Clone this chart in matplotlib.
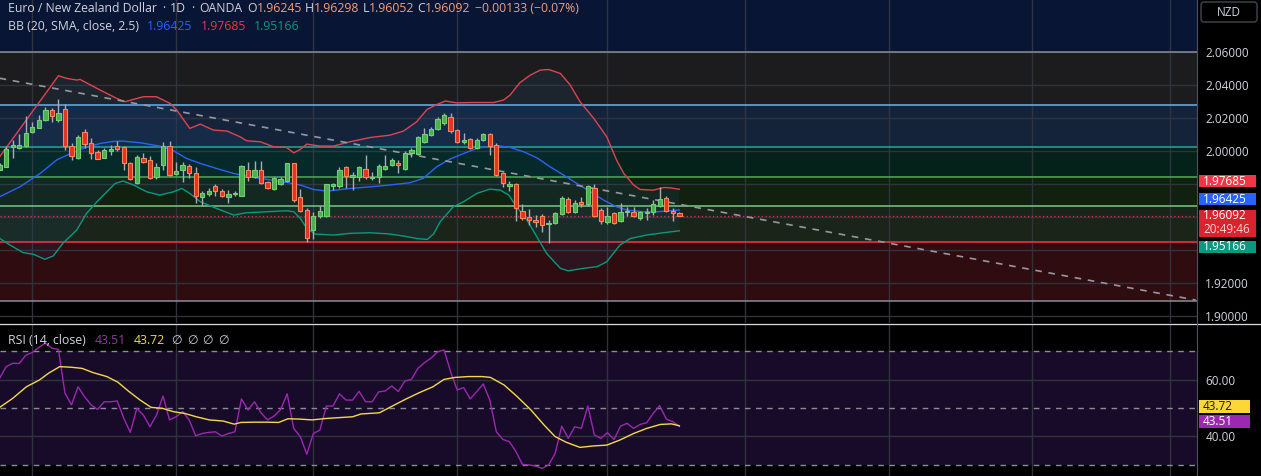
import matplotlib
matplotlib.use('Agg')
import matplotlib.pyplot as plt
from matplotlib.transforms import IdentityTransform
from matplotlib.patches import Rectangle, FancyBboxPatch
from matplotlib.lines import Line2D

plt.rcParams['font.family'] = ['Open Sans', 'DejaVu Sans']

# ---------------- data ----------------
opens = [1.9888, 1.9905, 2.0022, 2.0016, 2.0030, 2.0117, 2.0141, 2.0187, 2.0248, 2.0187,
         2.0252, 2.0032, 1.9959, 2.0117, 2.0050, 1.9995, 1.9959, 1.9999, 2.0032, 2.0026,
         1.9925, 1.9808, 1.9959, 1.9945, 1.9840, 1.9913, 2.0030, 1.9858, 1.9888, 1.9909,
         1.9864, 1.9723, 1.9737, 1.9787, 1.9759, 1.9719, 1.9737, 1.9729, 1.9884, 1.9844,
         1.9884, 1.9810, 1.9769, 1.9800, 1.9820, 1.9925, 1.9719, 1.9642, 1.9521, 1.9606,
         1.9608, 1.9789, 1.9787, 1.9905, 1.9844, 1.9844, 1.9890, 1.9838, 1.9840, 1.9894,
         1.9915, 1.9925, 1.9892, 1.9991, 1.9981, 2.0056, 2.0096, 2.0131, 2.0171, 2.0204,
         2.0127, 2.0052, 2.0070, 2.0016, 2.0066, 2.0103, 2.0036, 1.9864, 1.9787, 1.9800,
         1.9636, 1.9602, 1.9585, 1.9606, 1.9557, 1.9561, 1.9618, 1.9709, 1.9632, 1.9693,
         1.9676, 1.9773, 1.9642, 1.9571, 1.9626, 1.9577, 1.9628, 1.9628, 1.9592, 1.9626,
         1.9628, 1.9666, 1.9717, 1.9636, 1.96245]
highs = [1.9925, 2.0030, 2.0066, 2.0103, 2.0212, 2.0177, 2.0218, 2.0264, 2.0258, 2.0313,
         2.0282, 2.0046, 2.0096, 2.0131, 2.0076, 2.0006, 2.0016, 2.0036, 2.0060, 2.0030,
         1.9935, 1.9975, 1.9989, 1.9969, 1.9929, 2.0056, 2.0062, 1.9935, 1.9935, 1.9921,
         1.9901, 1.9757, 1.9777, 1.9800, 1.9767, 1.9763, 1.9759, 1.9913, 1.9935, 1.9939,
         1.9939, 1.9820, 1.9844, 1.9840, 1.9929, 1.9929, 1.9767, 1.9652, 1.9632, 1.9668,
         1.9800, 1.9808, 1.9901, 1.9909, 1.9874, 1.9909, 1.9975, 1.9874, 1.9921, 1.9975,
         1.9959, 1.9945, 2.0002, 2.0016, 2.0090, 2.0137, 2.0147, 2.0208, 2.0232, 2.0232,
         2.0131, 2.0107, 2.0080, 2.0076, 2.0111, 2.0107, 2.0046, 1.9874, 1.9820, 1.9808,
         1.9682, 1.9646, 1.9612, 1.9618, 1.9585, 1.9632, 1.9727, 1.9719, 1.9703, 1.9723,
         1.9794, 1.9800, 1.9652, 1.9662, 1.9632, 1.9688, 1.9662, 1.9662, 1.9638, 1.9656,
         1.9703, 1.9783, 1.9727, 1.9652, 1.96298]
lows = [1.9884, 1.9901, 1.9959, 2.0012, 2.0026, 2.0111, 2.0137, 2.0183, 2.0177, 2.0177,
        2.0006, 1.9945, 1.9953, 2.0016, 1.9949, 1.9949, 1.9955, 1.9975, 2.0002, 1.9888,
        1.9824, 1.9800, 1.9925, 1.9830, 1.9828, 1.9884, 1.9848, 1.9854, 1.9810, 1.9834,
        1.9688, 1.9668, 1.9727, 1.9727, 1.9719, 1.9686, 1.9727, 1.9727, 1.9820, 1.9834,
        1.9798, 1.9767, 1.9763, 1.9794, 1.9814, 1.9693, 1.9632, 1.9450, 1.9464, 1.9592,
        1.9598, 1.9763, 1.9773, 1.9773, 1.9763, 1.9820, 1.9828, 1.9824, 1.9808, 1.9884,
        1.9909, 1.9868, 1.9888, 1.9961, 1.9975, 2.0046, 2.0090, 2.0127, 2.0157, 2.0111,
        2.0050, 2.0042, 2.0010, 2.0010, 2.0060, 1.9975, 1.9850, 1.9783, 1.9759, 1.9577,
        1.9585, 1.9551, 1.9541, 1.9511, 1.9444, 1.9557, 1.9612, 1.9626, 1.9626, 1.9662,
        1.9668, 1.9602, 1.9557, 1.9555, 1.9557, 1.9571, 1.9606, 1.9602, 1.9585, 1.9581,
        1.9612, 1.9662, 1.9632, 1.9577, 1.96052]
closes = [1.9915, 2.0010, 2.0036, 2.0036, 2.0107, 2.0143, 2.0187, 2.0248, 2.0212, 2.0228,
          2.0032, 1.9969, 2.0086, 2.0040, 1.9991, 1.9953, 2.0006, 2.0010, 2.0010, 1.9925,
          1.9830, 1.9961, 1.9931, 1.9838, 1.9901, 2.0030, 1.9854, 1.9878, 1.9913, 1.9864,
          1.9729, 1.9743, 1.9757, 1.9759, 1.9727, 1.9739, 1.9743, 1.9909, 1.9840, 1.9888,
          1.9804, 1.9773, 1.9838, 1.9830, 1.9925, 1.9703, 1.9638, 1.9476, 1.9606, 1.9636,
          1.9798, 1.9800, 1.9884, 1.9850, 1.9854, 1.9901, 1.9840, 1.9844, 1.9909, 1.9909,
          1.9945, 1.9913, 1.9985, 2.0006, 2.0082, 2.0103, 2.0133, 2.0191, 2.0218, 2.0121,
          2.0056, 2.0066, 2.0016, 2.0066, 2.0103, 2.0030, 1.9854, 1.9804, 1.9798, 1.9652,
          1.9596, 1.9585, 1.9569, 1.9551, 1.9565, 1.9622, 1.9717, 1.9632, 1.9688, 1.9676,
          1.9787, 1.9608, 1.9577, 1.9606, 1.9565, 1.9628, 1.9638, 1.9608, 1.9628, 1.9632,
          1.9676, 1.9707, 1.9638, 1.9622, 1.96092]

bb_upper_x = [0, 9, 10.3, 11.8, 12.3, 15.4, 17.9, 19.2, 20.5, 22.0, 24.0, 26.1, 27.1, 29.1, 30.7,
              32.7, 34.8, 36.8, 37.8, 39.9, 41.9, 43.9, 45.0, 46.0, 47.0, 49.0, 51.1, 53.6, 56.7,
              59.7, 61.8, 63.8, 65.4, 66.9, 68.2, 69.9, 72.5, 75.6, 77.1, 78.1, 79.6, 81.2, 82.7,
              84.0, 85.8, 87.3, 88.8, 90.9, 92.9, 94.4, 95.5, 97.0, 98.0, 100.0, 101.6, 102.6, 104]
bb_upper_y = [1.9965, 2.0456, 2.0440, 2.0430, 2.0434, 2.0369, 2.0319, 2.0299, 2.0313, 2.0329,
              2.0329, 2.0288, 2.0248, 2.0137, 2.0163, 2.0127, 2.0121, 2.0086, 2.0062, 2.0056,
              2.0026, 2.0022, 1.9989, 2.0010, 2.0042, 2.0030, 2.0030, 2.0056, 2.0082, 2.0096,
              2.0121, 2.0177, 2.0252, 2.0282, 2.0303, 2.0292, 2.0294, 2.0294, 2.0309, 2.0339,
              2.0414, 2.0460, 2.0490, 2.0494, 2.0470, 2.0400, 2.0299, 2.0198, 2.0086, 1.9945,
              1.9864, 1.9794, 1.9767, 1.9763, 1.9779, 1.9777, 1.97685]
bb_mid_x = [0, 3.1, 6.2, 8.7, 10.3, 12.8, 15.4, 17.4, 18.9, 21.5, 24.5, 26.6, 28.6, 30.7, 33.2,
            35.8, 38.3, 40.9, 43.4, 46.0, 48.0, 50.1, 53.6, 56.7, 59.7, 62.8, 64.8, 66.9, 68.9,
            71.0, 73.0, 74.5, 76.6, 78.1, 80.2, 82.2, 84.2, 86.3, 88.3, 90.4, 92.4, 94.4, 96.0,
            98.5, 100.6, 104]
bb_mid_y = [1.9723, 1.9783, 1.9864, 1.9945, 1.9975, 2.0016, 2.0046, 2.0058, 2.0060, 2.0050,
            2.0030, 2.0002, 1.9955, 1.9925, 1.9894, 1.9864, 1.9844, 1.9828, 1.9814, 1.9794,
            1.9767, 1.9757, 1.9773, 1.9783, 1.9794, 1.9808, 1.9834, 1.9905, 1.9951, 1.9985,
            2.0016, 2.0026, 2.0030, 2.0022, 1.9995, 1.9959, 1.9905, 1.9854, 1.9804, 1.9753,
            1.9703, 1.9662, 1.9642, 1.9632, 1.9632, 1.96425]
bb_low_x = [0, 1.6, 3.6, 5.2, 6.9, 8.2, 9.75, 11.8, 13.3, 14.9, 17.7, 18.9, 20.5, 22.5, 24.5,
            26.6, 27.9, 29.1, 30.7, 33.2, 35.8, 37.8, 40.9, 43.9, 45.0, 46.0, 47.0, 48.3, 51.1,
            53.6, 56.7, 59.7, 61.8, 63.8, 65.4, 66.4, 67.4, 69.4, 71.0, 73.0, 75.0, 76.6, 77.9,
            79.1, 80.7, 82.2, 83.7, 85.8, 87.0, 89.3, 91.4, 92.9, 94.9, 96.5, 99.0, 101.6, 104]
bb_low_y = [1.9471, 1.9430, 1.9384, 1.9374, 1.9344, 1.9364, 1.9444, 1.9521, 1.9622, 1.9693,
            1.9804, 1.9818, 1.9794, 1.9753, 1.9733, 1.9753, 1.9773, 1.9743, 1.9693, 1.9652,
            1.9612, 1.9626, 1.9632, 1.9638, 1.9632, 1.9592, 1.9531, 1.9497, 1.9491, 1.9501,
            1.9505, 1.9497, 1.9485, 1.9470, 1.9464, 1.9497, 1.9571, 1.9662, 1.9693, 1.9743,
            1.9769, 1.9763, 1.9733, 1.9662, 1.9581, 1.9480, 1.9379, 1.9289, 1.9274, 1.9289,
            1.9299, 1.9329, 1.9430, 1.9470, 1.9491, 1.9505, 1.95166]

rsi = [60.5, 64.6, 65.8, 65.7, 68.6, 69.6, 71.4, 72.9, 71.1, 70.7,
       55.2, 51.1, 57.5, 54.0, 51.1, 49.5, 52.2, 52.2, 52.5, 46.4,
       41.4, 49.9, 47.5, 43.4, 47.5, 54.2, 45.8, 46.9, 48.7, 45.8,
       40.2, 41.0, 41.4, 41.6, 40.1, 41.0, 41.6, 53.2, 49.3, 52.2,
       48.3, 45.8, 47.2, 49.5, 55.0, 42.8, 39.9, 33.7, 41.0, 42.2,
       50.7, 50.7, 55.0, 52.8, 52.8, 55.9, 52.2, 52.2, 55.7, 56.0,
       57.8, 55.8, 59.5, 60.1, 64.0, 66.0, 67.6, 69.8, 70.5, 62.8,
       56.4, 57.2, 53.2, 55.8, 58.5, 52.8, 41.6, 38.9, 38.1, 34.6,
       30.1, 29.9, 29.5, 28.7, 29.9, 34.0, 43.6, 39.3, 43.4, 42.8,
       50.7, 40.5, 39.3, 41.3, 38.9, 43.6, 44.6, 42.8, 44.2, 44.8,
       48.1, 50.8, 46.1, 45.2, 43.51]
rsi_ma_x = [0, 2.0, 4.1, 6.1, 7.5, 9.2, 10.9, 12.6, 14.3, 16.4, 18.1, 19.8, 21.5, 23.2, 24.9,
            26.6, 28.3, 30.1, 32.1, 34.2, 35.9, 36.9, 38.9, 41.0, 42.7, 44.1, 45.8, 47.8, 49.9,
            51.9, 54.0, 55.3, 58.1, 60.1, 62.2, 64.2, 66.3, 68.0, 69.7, 71.7, 73.8, 75.1, 77.2,
            79.2, 81.3, 83.3, 85.0, 86.7, 88.8, 90.8, 92.9, 94.9, 97.0, 99.0, 101.1, 102.8, 104]
rsi_ma_y = [50.2, 53.4, 57.5, 59.9, 62.3, 64.6, 64.4, 64.0, 62.5, 61.1, 59.1, 55.8, 52.8, 50.2,
            49.9, 48.7, 48.1, 46.9, 45.8, 45.4, 44.3, 44.9, 45.0, 45.0, 44.9, 46.2, 46.1, 45.8,
            46.3, 46.6, 46.9, 47.9, 48.3, 50.7, 53.2, 55.4, 57.5, 60.1, 60.8, 61.1, 61.1, 60.8,
            58.1, 54.0, 49.3, 44.0, 39.9, 37.9, 36.1, 36.6, 36.9, 38.7, 41.0, 42.8, 44.2, 44.4,
            43.72]

fib_levels = [2.0600, 2.0277, 2.0023, 1.9845, 1.9667, 1.9446, 1.9090]
trend_x = [0, 183]
trend_y = [2.0441, 1.9097]
month_grid = [5, 27, 48, 70, 93, 114, 136, 158, 179]
price_ticks = [2.06, 2.04, 2.02, 2.00, 1.98, 1.96, 1.94, 1.92, 1.90]
price_tick_labels = ['2.06000', '2.04000', '2.02000', '2.00000', '', '', '', '1.92000', '1.90000']
rsi_ticks = [60, 40]
rsi_tick_labels = ['60.00', '40.00']
rsi_levels = [70, 50, 30]
bb_basis_last, bb_upper_last, bb_lower_last = 1.96425, 1.97685, 1.95166
rsi_last, rsi_ma_last = 43.51, 43.72
ohlc_change = '−0.00133 (−0.07%)'
countdown = '20:49:46'

# ---------------- styles ----------------
W, H = 1261, 476
FG = '#d1d4dc'
GRID = '#30333c'
LEG = 8.8
TICK = 8.5
fib_line_colors = ['#8a8d96', '#64b5f6', '#26a69a', '#4caf50', '#81c784', '#f23645', '#8a8d96']
fib_fill_colors = ['#1c1c1e', '#15233a', '#05221a', '#122010', '#1a2419', '#2e0c10']
TOP_FILL = '#081535'

fig = plt.figure(figsize=(W / 100, H / 100), dpi=100, facecolor='black')
ax = fig.add_axes([0, 153 / H, 1197 / W, 323 / H])
rx = fig.add_axes([0, 0, 1197 / W, 151 / H])

n = len(closes)
idx = list(range(n))

for a in (ax, rx):
    a.set_facecolor('black')
    for s in a.spines.values():
        s.set_visible(False)
    a.set_xlim(0.06, 183.2)
    a.set_xticks(month_grid)
    a.set_xticklabels([])
    a.tick_params(axis='x', length=0)
    a.set_axisbelow(True)
    a.yaxis.tick_right()
    a.tick_params(axis='y', length=0, pad=6, labelsize=TICK, labelcolor=FG)
    a.grid(True, color=GRID, lw=1, zorder=0.5)

# ---- main pane ----
ax.set_ylim(1.8958, 2.0915)
ax.set_yticks(price_ticks)
ax.set_yticklabels(price_tick_labels)

ax.axhspan(fib_levels[0], 2.2, color=TOP_FILL, zorder=0.1, lw=0)
for i in range(len(fib_levels) - 1):
    ax.axhspan(fib_levels[i + 1], fib_levels[i], color=fib_fill_colors[i], zorder=0.1, lw=0)
for lv, c in zip(fib_levels, fib_line_colors):
    ax.axhline(lv, color=c, lw=1.1, zorder=1)

# Bollinger band fill + lines
poly_x = bb_upper_x + bb_low_x[::-1]
poly_y = bb_upper_y + bb_low_y[::-1]
ax.fill(poly_x, poly_y, color='#2196f3', alpha=0.07, lw=0, zorder=1.2)
ax.plot(bb_upper_x, bb_upper_y, color='#e0434f', lw=1.0, zorder=2)
ax.plot(bb_mid_x, bb_mid_y, color='#2962ff', lw=1.0, zorder=2)
ax.plot(bb_low_x, bb_low_y, color='#089981', lw=1.0, zorder=2)

# trend line
ax.plot(trend_x, trend_y, color='#9598a1', lw=1.2, ls=(0, (4, 4)), zorder=2.2)

# current price line
ax.axhline(closes[-1], color='#f23645', lw=0.9, ls=(0, (1, 2)), zorder=2.1, alpha=0.9)

# candles
up = [c >= o for o, c in zip(opens, closes)]
face = ['#4caf50' if u else '#e8311e' for u in up]
edge = ['#72cf75' if u else '#f7865f' for u in up]
bottoms = [min(o, c) for o, c in zip(opens, closes)]
heights = [max(abs(c - o), 0.00035) for o, c in zip(opens, closes)]
ax.vlines(idx, lows, highs, color='#a9acb4', lw=1.0, zorder=3)
ax.bar(idx, heights, bottom=bottoms, width=0.66, color=face, edgecolor=edge, linewidth=0.8, zorder=4)

# ---- RSI pane ----
rx.set_ylim(26.0, 79.3)
rx.set_yticks(rsi_ticks)
rx.set_yticklabels(rsi_tick_labels)
rx.axhspan(rsi_levels[2], rsi_levels[0], color='#170b29', zorder=0.1, lw=0)
for lv in rsi_levels:
    rx.axhline(lv, color='#8a8d96', lw=1.0, ls=(0, (4, 4)), zorder=1)
rx.plot(idx, rsi, color='#9c27b0', lw=1.0, zorder=3)
rx.plot(rsi_ma_x, rsi_ma_y, color='#f5d94a', lw=1.0, zorder=3)

fig.canvas.draw()
renderer = fig.canvas.get_renderer()
ID = IdentityTransform()

# separators
fig.add_artist(Line2D([0, W], [H - 323.5, H - 323.5], color='#d8dbe2', lw=0.9, transform=ID))
fig.add_artist(Line2D([1197, 1197], [0, H], color='#50535e', lw=0.8, transform=ID))


def seq(x, y_img, parts, size):
    for text, color, gap in parts:
        x += gap
        t = fig.text(x, H - y_img, text, color=color, fontsize=size, ha='left', va='center',
                     transform=ID)
        x = t.get_window_extent(renderer=renderer).x1


VAL = '#f4a07a'
seq(8, 8, [('Euro / New Zealand Dollar', FG, 0), ('·', FG, 5), ('1D', FG, 5), ('·', FG, 5),
           ('OANDA', FG, 5),
           ('O', FG, 5), ('%.5f' % opens[-1], VAL, 0),
           ('H', FG, 3), ('%.5f' % highs[-1], VAL, 0),
           ('L', FG, 3), ('%.5f' % lows[-1], VAL, 0),
           ('C', FG, 3), ('%.5f' % closes[-1], VAL, 0),
           (ohlc_change, VAL, 4)], LEG)
seq(8, 26, [('BB (20, SMA, close, 2.5)', FG, 0),
            ('%.5f' % bb_basis_last, '#2962ff', 8),
            ('%.5f' % bb_upper_last, '#f23645', 8),
            ('%.5f' % bb_lower_last, '#089981', 8)], LEG)
seq(8, 340, [('RSI (14, close)', FG, 0),
             ('%.2f' % rsi_last, '#8e3aa8', 9),
             ('%.2f' % rsi_ma_last, '#f5d94a', 8),
             ('∅', FG, 6), ('∅', FG, 5), ('∅', FG, 5), ('∅', FG, 5)], LEG)


def tag(a, value, text, fc, tc, dy, h=12, sub=None, subcolor=None, w=57):
    yd = a.transData.transform((0, value))[1] - dy
    top = yd + h / 2
    bot = yd - h / 2 - (15 if sub else 0)
    fig.add_artist(Rectangle((1199, bot), w, top - bot, fc=fc, ec='none', transform=ID))
    fig.text(1203, yd, text, color=tc, fontsize=TICK, ha='left', va='center', transform=ID)
    if sub:
        fig.text(1203, yd - 14, sub, color=subcolor, fontsize=TICK, ha='left', va='center',
                 transform=ID)


tag(ax, bb_upper_last, '%.5f' % bb_upper_last, '#f23645', 'white', -8)
tag(ax, bb_basis_last, '%.5f' % bb_basis_last, '#2962ff', 'white', -11)
tag(ax, closes[-1], '%.5f' % closes[-1], '#d9232d', 'white', 0, sub=countdown, subcolor='#ffd3d6')
tag(ax, bb_lower_last, '%.5f' % bb_lower_last, '#089981', 'white', 16)
tag(rx, rsi_ma_last, '%.2f' % rsi_ma_last, '#fdd835', '#131722', -19, h=13, w=51)
tag(rx, rsi_last, '%.2f' % rsi_last, '#9c27b0', 'white', -5, h=13, w=51)

# currency button
fig.add_artist(FancyBboxPatch((1201, H - 22), 56, 20, boxstyle='round,pad=0,rounding_size=3',
                              fc='black', ec='#434651', lw=1, transform=ID))
fig.text(1229, H - 12, 'NZD', color=FG, fontsize=TICK, ha='center', va='center', transform=ID)

fig.savefig('out.png', dpi=100, facecolor='black')
